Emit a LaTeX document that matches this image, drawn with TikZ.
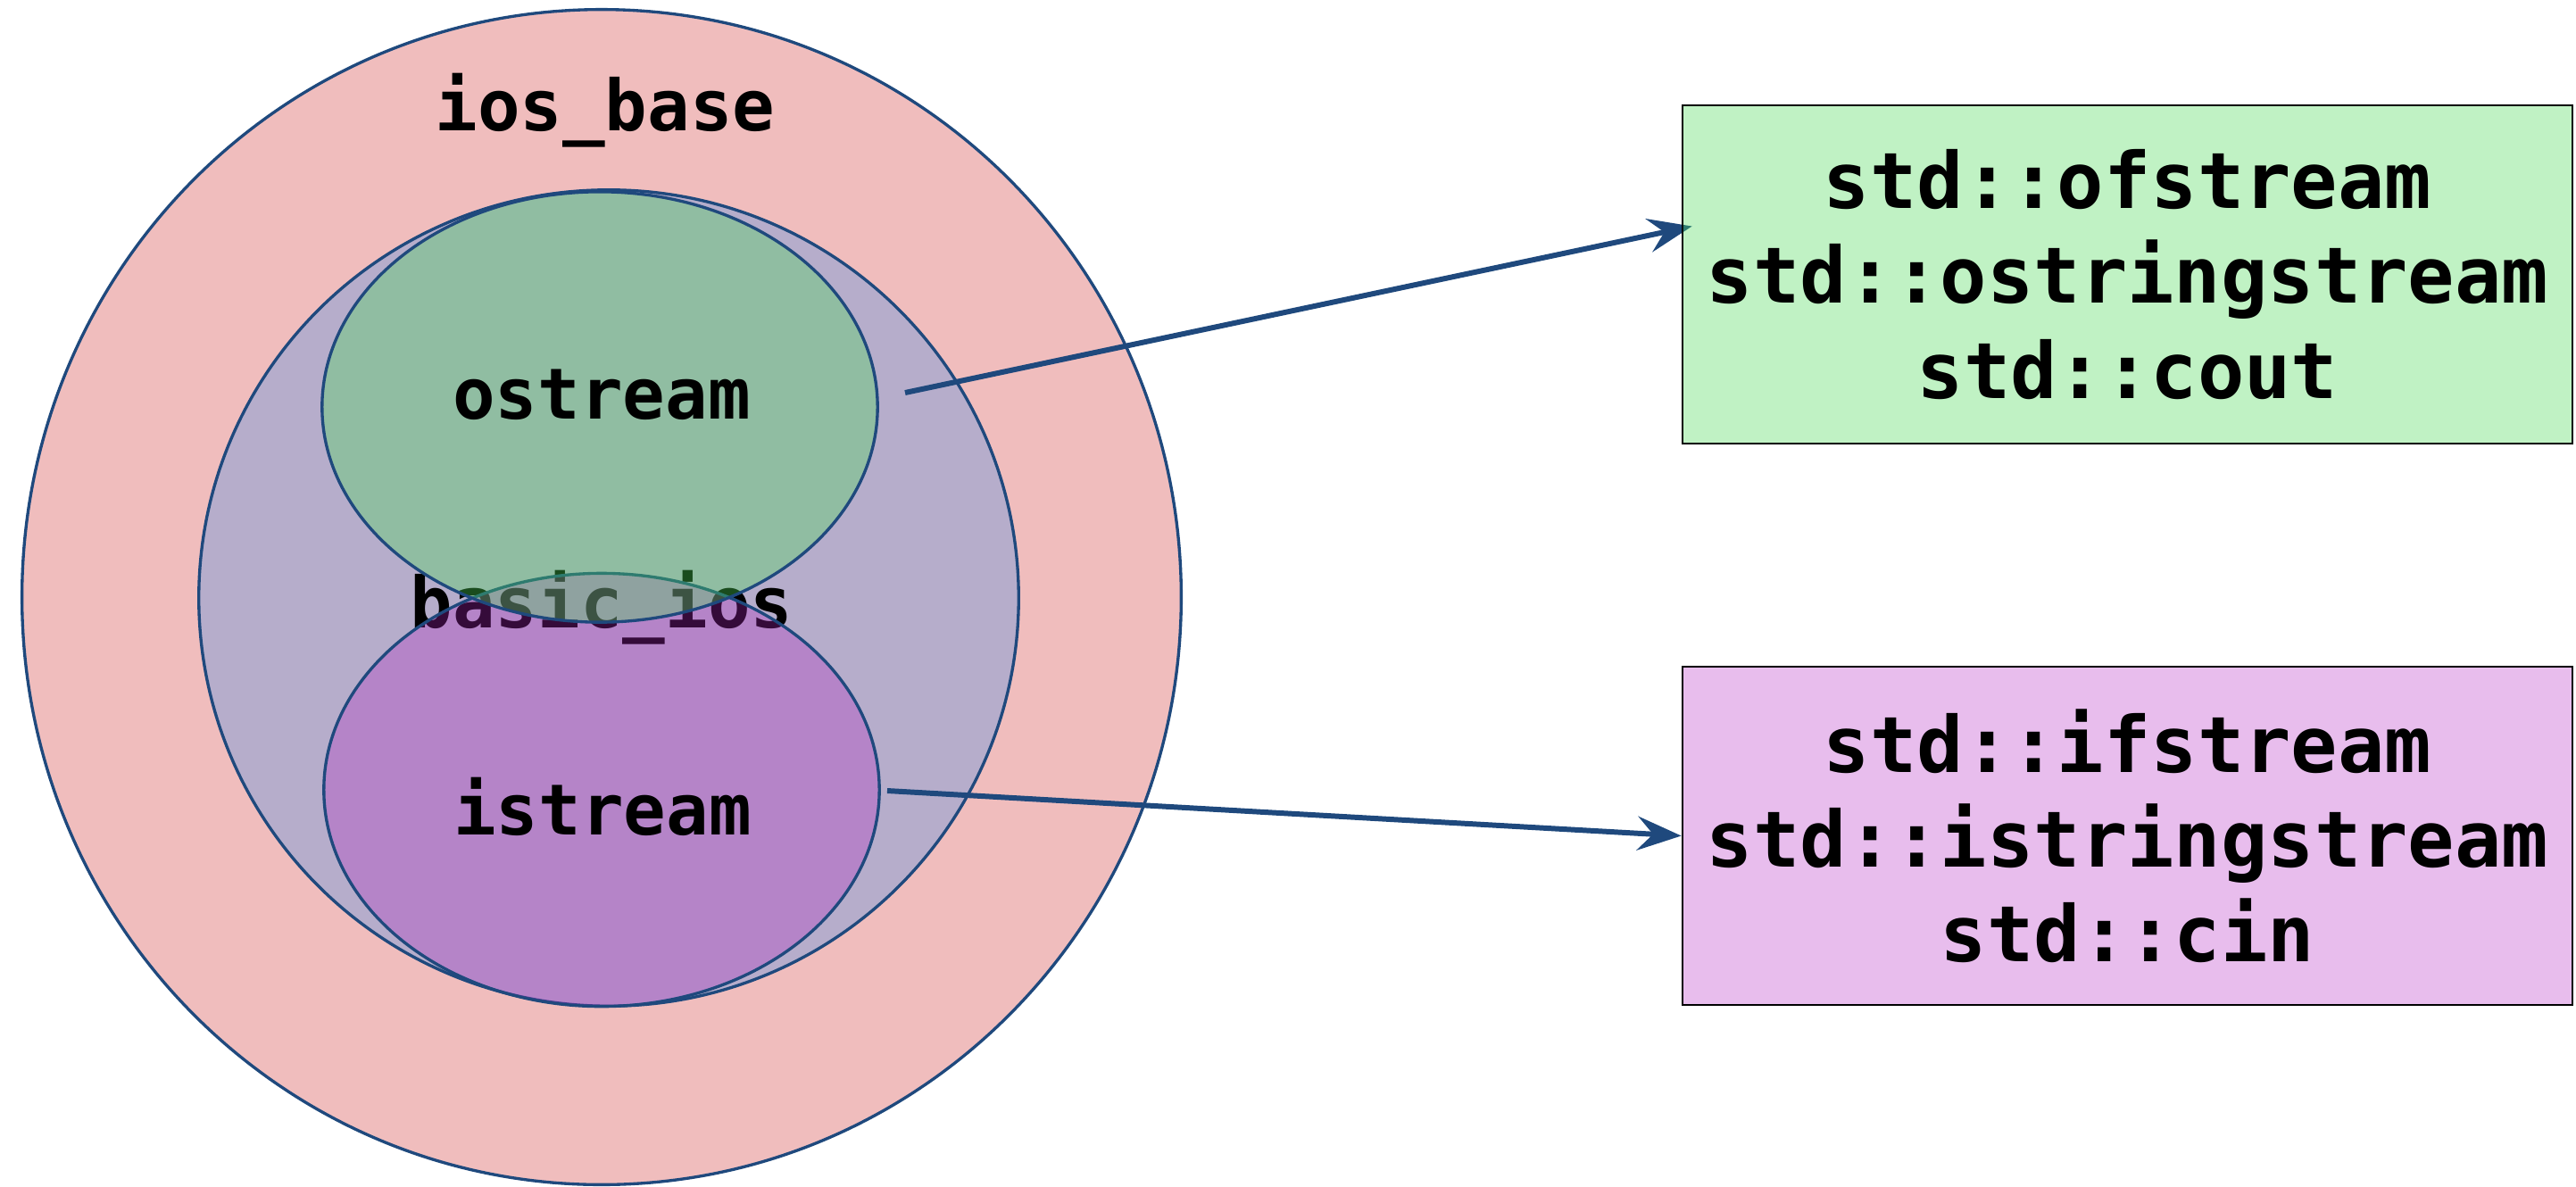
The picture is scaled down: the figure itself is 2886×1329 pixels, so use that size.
\documentclass[tikz,border=0pt]{standalone}
\usepackage{fontspec}
\setmonofont{DejaVu Sans Mono}
\usetikzlibrary{shapes.geometric,arrows.meta,calc}
\definecolor{edge}{RGB}{31,73,125}
\definecolor{redf}{RGB}{205,38,38}
\definecolor{bluef}{RGB}{47,137,237}
\definecolor{greenf}{RGB}{75,218,86}
\definecolor{purplef}{RGB}{178,38,195}
\pgfdeclarelayer{front}
\pgfsetlayers{main,front}
\begin{document}
\begin{tikzpicture}[x=0.01cm,y=-0.01cm,
  blob/.style={ellipse, draw=edge, line width=0.95pt, fill opacity=0.3, inner sep=0pt},
  lbl/.style={font=\ttfamily\bfseries\fontsize{22.5pt}{27pt}\selectfont, anchor=base, inner sep=0pt},
  listbox/.style={rectangle, draw=black, line width=0.6pt, fill opacity=0.3, text opacity=1,
    minimum width=9.97cm, minimum height=3.79cm, align=center, inner sep=0pt,
    font=\ttfamily\bfseries\fontsize{24.75pt}{30.2pt}\selectfont},
  arr/.style={draw=edge, line width=1.7pt, -{Stealth[length=14pt,width=10.8pt,inset=5pt]}}]
\useasboundingbox (0,0) rectangle (2886,1329);

% nested class sets
\node[blob, fill=redf, minimum width=12.98cm, minimum height=13.16cm] (iosbase) at (674,669) {};
\node[blob, fill=bluef, minimum width=9.18cm, minimum height=9.14cm] (basicios) at (682,670) {};
\node[lbl] (basiciosl) at (674,703) {basic\_ios};
\node[blob, fill=purplef, minimum width=6.22cm, minimum height=4.85cm] (istr) at (674,885) {};
\node[blob, fill=greenf, fill opacity=0.35, minimum width=6.22cm, minimum height=4.82cm] (ostr) at (672,456) {};
\node[lbl] (iosbasel) at (678,146) {ios\_base};
\node[lbl] (ostrl) at (674,469) {ostream};
\node[lbl] (istrl) at (675,935) {istream};

% concrete stream lists
\begin{pgfonlayer}{front}
\node[listbox, fill=greenf, fill opacity=0.35] (outbox) at (2383.5,307.5) {std::ofstream\\std::ostringstream\\std::cout};
\node[listbox, fill=purplef] (inbox) at (2383.5,936.5) {std::ifstream\\std::istringstream\\std::cin};
\end{pgfonlayer}

% connectors
\draw[arr] ($(ostr.center)+(342,-16)$) -- ($(outbox.west)+(12,-54)$);
\draw[arr] ($(istr.center)+(320,1)$) -- (inbox.west);
\end{tikzpicture}
\end{document}
